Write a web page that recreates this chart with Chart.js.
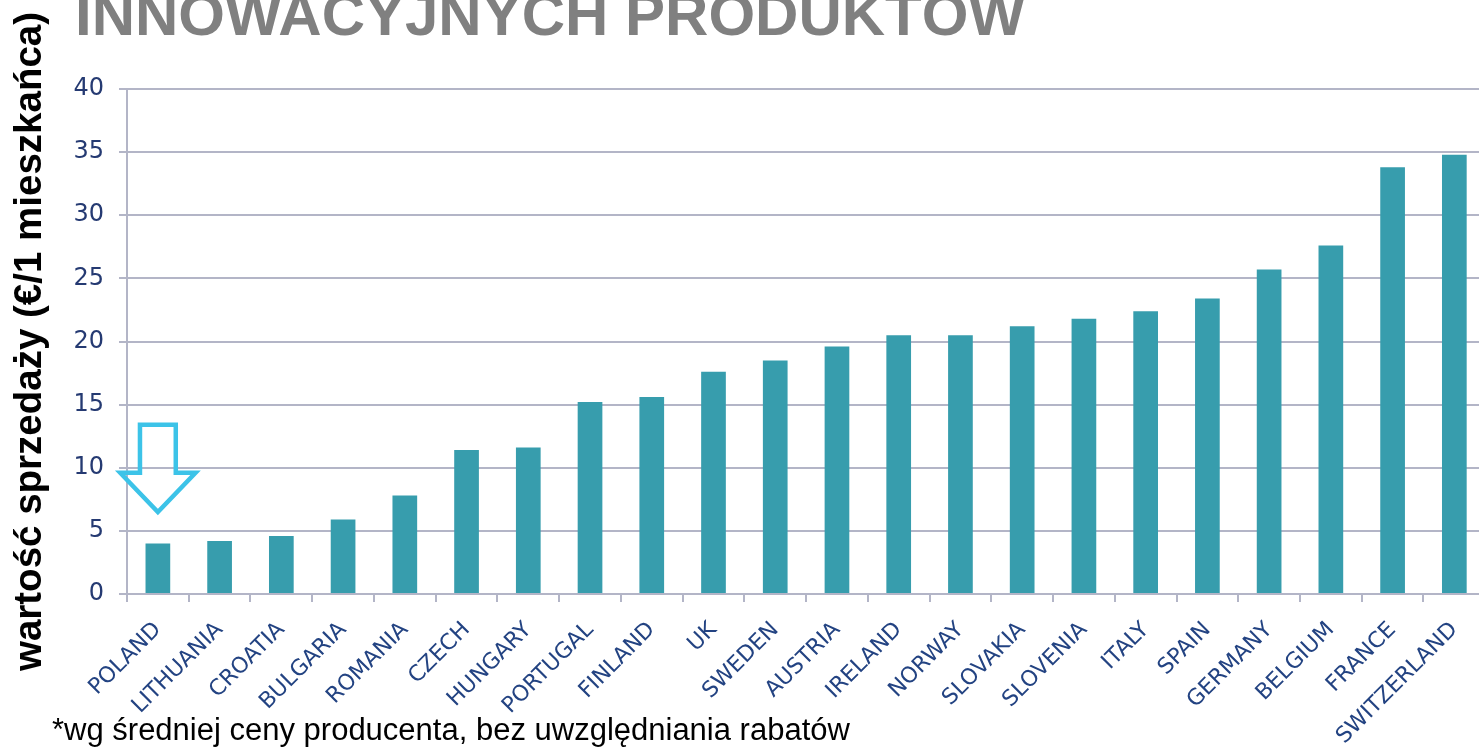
<!DOCTYPE html>
<html>
<head>
<meta charset="utf-8">
<script src="https://cdn.jsdelivr.net/npm/chart.js@4/dist/chart.umd.min.js"></script>
<style>
  html, body { margin: 0; padding: 0; background: #ffffff; overflow: hidden; width: 1479px; height: 747px; }
  #wrap { position: relative; width: 1479px; height: 747px; overflow: hidden; }
  #c { position: absolute; left: 0; top: 0; }
  #title { position: absolute; left: 75px; top: -15px; font: bold 60px "Liberation Sans", Arial, sans-serif; line-height: 1; color: #808080; white-space: nowrap; }
  #note { position: absolute; left: 52px; top: 714px; font: 31px "Liberation Sans", Arial, sans-serif; line-height: 1; color: #000; white-space: nowrap; }
</style>
</head>
<body>
<div id="wrap">
  <canvas id="c" width="1488" height="747"></canvas>
  <div id="title">INNOWACYJNYCH PRODUKTÓW</div>
  <div id="note">*wg średniej ceny producenta, bez uwzględniania rabatów</div>
</div>
<script>
const categories = ["POLAND","LITHUANIA","CROATIA","BULGARIA","ROMANIA","CZECH","HUNGARY","PORTUGAL","FINLAND","UK","SWEDEN","AUSTRIA","IRELAND","NORWAY","SLOVAKIA","SLOVENIA","ITALY","SPAIN","GERMANY","BELGIUM","FRANCE","SWITZERLAND"];
const salesValues = [4.0, 4.2, 4.6, 5.9, 7.8, 11.4, 11.6, 15.2, 15.6, 17.6, 18.5, 19.6, 20.5, 20.5, 21.2, 21.8, 22.4, 23.4, 25.7, 27.6, 33.8, 34.8];
const yTicks = [0, 5, 10, 15, 20, 25, 30, 35, 40];
const yAxisTitle = "wartość sprzedaży (€/1 mieszkańca)";
// arrow annotation pointing at POLAND (data units)
const arrowCategory = 0;
const arrowTop = 13.4, arrowShoulder = 9.6, arrowTip = 6.5;

const arrowPlugin = {
  id: 'arrow',
  afterDatasetsDraw(chart) {
    const x = chart.scales.x, y = chart.scales.y, ctx = chart.ctx;
    const cx = x.getPixelForValue(arrowCategory);
    const cw = x.getPixelForValue(1) - x.getPixelForValue(0);
    const sh = cw * 0.29, hh = cw * 0.61;
    const yt = y.getPixelForValue(arrowTop), ys = y.getPixelForValue(arrowShoulder), yp = y.getPixelForValue(arrowTip);
    ctx.save();
    ctx.beginPath();
    ctx.moveTo(cx - sh, yt);
    ctx.lineTo(cx + sh, yt);
    ctx.lineTo(cx + sh, ys);
    ctx.lineTo(cx + hh, ys);
    ctx.lineTo(cx, yp);
    ctx.lineTo(cx - hh, ys);
    ctx.lineTo(cx - sh, ys);
    ctx.closePath();
    ctx.lineWidth = 4.5;
    ctx.strokeStyle = '#3cc3e8';
    ctx.lineJoin = 'miter';
    ctx.stroke();
    ctx.restore();
  }
};

new Chart(document.getElementById('c'), {
  type: 'bar',
  data: {
    labels: categories,
    datasets: [{
      data: salesValues,
      backgroundColor: '#379dad',
      borderWidth: 0,
      barPercentage: 0.40,
      categoryPercentage: 1.0
    }]
  },
  options: {
    responsive: false,
    animation: false,
    devicePixelRatio: 1,
    layout: { padding: { top: 89, right: 0, left: 0, bottom: 0 } },
    plugins: { legend: { display: false }, tooltip: { enabled: false }, title: { display: false } },
    scales: {
      x: {
        afterFit(scale) { scale.height = 153; },
        grid: { display: true, drawOnChartArea: false, drawTicks: true, tickLength: 8, color: '#b3b5c7', lineWidth: 2, offset: true },
        border: { display: true, color: '#b3b5c7', width: 2 },
        ticks: {
          autoSkip: false, maxRotation: 45, minRotation: 45, padding: 15,
          color: '#234382',
          font: { family: '"DejaVu Sans", Verdana, sans-serif', size: 22 }
        }
      },
      y: {
        min: 0, max: 40,
        afterFit(scale) { scale.width = 127; },
        afterBuildTicks(scale) { scale.ticks = yTicks.map(v => ({ value: v })); },
        grid: { color: '#b3b5c7', lineWidth: 2, drawTicks: true, tickLength: 8 },
        border: { display: true, color: '#b3b5c7', width: 2 },
        ticks: {
          stepSize: 5, padding: 15,
          color: '#253a72',
          font: { family: '"DejaVu Sans", Verdana, sans-serif', size: 24 }
        },
        title: {
          display: true, text: yAxisTitle, color: '#000000',
          font: { family: '"Liberation Sans", Arial, sans-serif', size: 38.5, weight: 'bold' },
          padding: { top: 7, bottom: 0 }
        }
      }
    }
  },
  plugins: [arrowPlugin]
});
</script>
</body>
</html>
